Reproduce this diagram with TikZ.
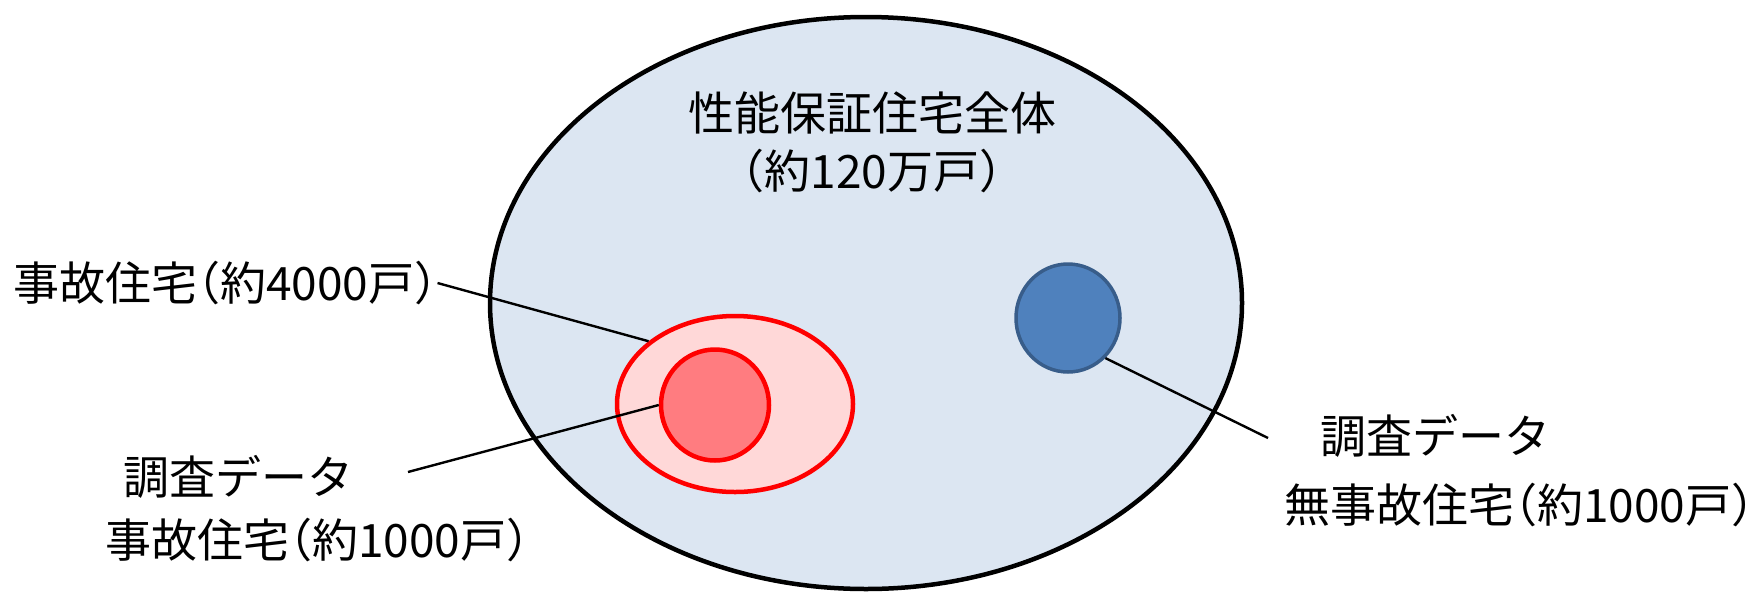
\documentclass[tikz,border=0pt]{standalone}
\usepackage{fontspec}
\newfontfamily\jp{Noto Sans CJK JP}
\newfontfamily\jph[RawFeature=+halt]{Noto Sans CJK JP}
\usetikzlibrary{shapes.geometric}
\definecolor{bgblue}{RGB}{220,230,242}
\definecolor{pinkfill}{RGB}{255,216,216}
\definecolor{redfill}{RGB}{255,124,128}
\definecolor{redline}{RGB}{255,0,0}
\definecolor{bluefill}{RGB}{79,129,189}
\definecolor{blueline}{RGB}{56,93,138}
\begin{document}
\begin{tikzpicture}[x=1pt,y=-1pt,
  lbl/.style={font=\jph\fontsize{46pt}{56pt}\selectfont, inner sep=0pt, anchor=west},
  conn/.style={line width=2.4pt, black},
  blob/.style={ellipse, inner sep=0pt}]
\useasboundingbox (0,0) rectangle (1764,595);
\fill[white] (0,0) rectangle (1764,595);

\node[blob, draw=black, fill=bgblue, line width=4.5pt, minimum width=752pt, minimum height=572pt] (all) at (866,303) {};
\node[font=\jp\fontsize{46pt}{58pt}\selectfont, align=center, inner sep=0pt] (title) at (872,142) {性能保証住宅全体\\（約120万戸）};

\node[blob, draw=redline, fill=pinkfill, line width=4.5pt, minimum width=236pt, minimum height=176pt] (pink) at (735,404) {};
\node[blob, draw=redline, fill=redfill, line width=4.5pt, minimum width=108pt, minimum height=111pt] (red) at (715,405) {};
\node[blob, draw=blueline, fill=bluefill, line width=3.5pt, minimum width=104pt, minimum height=108pt] (blue) at (1068,318) {};

\node[lbl] (l4000) at (13,283) {事故住宅（約4000戸）};
\node[lbl] (survL) at (123,477) {調査データ};
\node[lbl] (l1000) at (105,540) {事故住宅（約1000戸）};
\node[lbl] (survR) at (1320,436) {調査データ};
\node[lbl] (lnone) at (1284,505) {無事故住宅（約1000戸）\kern-0.3em};

\coordinate (e1) at (408,472);
\coordinate (e3) at (1268,438);

\draw[conn] (l4000.east) -- (pink.144);
\draw[conn] (e1) -- (red.180);
\draw[conn] (blue.-47) -- (e3);
\end{tikzpicture}
\end{document}
